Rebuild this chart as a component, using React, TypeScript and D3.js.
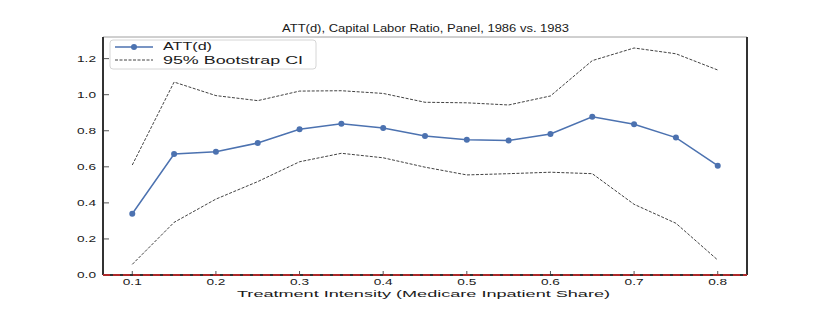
import React, { useRef, useEffect } from 'react';
import * as d3 from 'd3';

const intensity = [0.1, 0.15, 0.2, 0.25, 0.3, 0.35, 0.4, 0.45, 0.5, 0.55, 0.6, 0.65, 0.7, 0.75, 0.8];
const att = [0.34, 0.671, 0.684, 0.732, 0.808, 0.839, 0.815, 0.771, 0.75, 0.746, 0.782, 0.878, 0.836, 0.762, 0.606];
const ciUpper = [0.61, 1.07, 0.995, 0.967, 1.02, 1.022, 1.007, 0.958, 0.955, 0.943, 0.993, 1.189, 1.259, 1.227, 1.137];
const ciLower = [0.059, 0.292, 0.421, 0.518, 0.628, 0.675, 0.65, 0.598, 0.555, 0.562, 0.57, 0.562, 0.392, 0.287, 0.083];
const xTicks = [0.1, 0.2, 0.3, 0.4, 0.5, 0.6, 0.7, 0.8];
const yTicks = [0.0, 0.2, 0.4, 0.6, 0.8, 1.0, 1.2];

const W = 830;
const H = 310;

export default function App() {
  const ref = useRef<SVGSVGElement>(null);

  useEffect(() => {
    const svg = d3.select(ref.current);
    svg.selectAll('*').remove();

    const margin = { top: 37, right: 83, bottom: 35, left: 103 };
    const x = d3.scaleLinear().domain([0.065, 0.835]).range([margin.left, W - margin.right]);
    const y = d3.scaleLinear().domain([0, 1.32]).range([H - margin.bottom, margin.top]);
    const font = '"Liberation Sans", Arial, sans-serif';
    const ink = '#1a1a1a';

    // text stretched sideways like the reference rendering
    const label = (g: any, tx: number, ty: number, s: string, size: number, len: number, anchor = 'start') =>
      g.append('text').attr('x', tx).attr('y', ty).attr('text-anchor', anchor)
        .attr('font-family', font).attr('font-size', size).attr('fill', ink)
        .attr('textLength', len).attr('lengthAdjust', 'spacingAndGlyphs').text(s);

    svg.append('rect').attr('width', W).attr('height', H).attr('fill', '#fff');

    const x0 = x.range()[0], x1 = x.range()[1], y0 = y.range()[0], y1 = y.range()[1];

    label(svg, 282, 32, 'ATT(d), Capital Labor Ratio, Panel, 1986 vs. 1983', 10.5, 287);

    // ticks (inward)
    const ticks = svg.append('g').attr('stroke', '#555').attr('stroke-width', 1);
    xTicks.forEach(t => {
      ticks.append('line').attr('x1', x(t)).attr('x2', x(t)).attr('y1', y(0)).attr('y2', y(0) - 4);
    });
    yTicks.forEach(t => {
      ticks.append('line').attr('x1', x0).attr('x2', x0 + 6).attr('y1', y(t)).attr('y2', y(t));
    });

    xTicks.forEach(t => label(svg, x(t) - 9.5, 284.5, d3.format('.1f')(t), 9.5, 19));
    yTicks.forEach(t => label(svg, 77, y(t) + 3.4, d3.format('.1f')(t), 9.5, 19));

    label(svg, 237, 297, 'Treatment Intensity (Medicare Inpatient Share)', 9.5, 373);

    const idx = d3.range(intensity.length);
    const path = (vals: number[]) => d3.line<number>().x(i => x(intensity[i])).y(i => y(vals[i]))(idx);

    [ciUpper, ciLower].forEach(vals => {
      svg.append('path').attr('d', path(vals)).attr('fill', 'none')
        .attr('stroke', '#111').attr('stroke-width', 0.8).attr('stroke-dasharray', '3,1.5');
    });

    svg.append('path').attr('d', path(att)).attr('fill', 'none')
      .attr('stroke', '#4c72b0').attr('stroke-width', 1.5);
    svg.selectAll('circle.att').data(idx).enter().append('circle')
      .attr('cx', i => x(intensity[i])).attr('cy', i => y(att[i])).attr('r', 3)
      .attr('fill', '#4c72b0');

    // spines
    svg.append('line').attr('x1', x0).attr('x2', x1).attr('y1', y1).attr('y2', y1).attr('stroke', '#888').attr('stroke-width', 0.8);
    svg.append('line').attr('x1', x0).attr('x2', x0).attr('y1', y1).attr('y2', y0).attr('stroke', '#333').attr('stroke-width', 2);
    svg.append('line').attr('x1', x1).attr('x2', x1).attr('y1', y1).attr('y2', y0).attr('stroke', '#333').attr('stroke-width', 2);
    svg.append('line').attr('x1', x0).attr('x2', x1).attr('y1', y0).attr('y2', y0).attr('stroke', '#333').attr('stroke-width', 2);

    // zero reference line
    svg.append('line').attr('x1', x0).attr('x2', x1).attr('y1', y(0)).attr('y2', y(0))
      .attr('stroke', '#d62728').attr('stroke-width', 1.5).attr('stroke-dasharray', '7,3');

    // legend
    const lg = svg.append('g').attr('transform', 'translate(110,40)');
    lg.append('rect').attr('width', 206).attr('height', 29).attr('rx', 3)
      .attr('fill', '#fff').attr('fill-opacity', 0.8).attr('stroke', '#ccc').attr('stroke-width', 0.8);
    lg.append('line').attr('x1', 5).attr('x2', 43).attr('y1', 7).attr('y2', 7).attr('stroke', '#4c72b0').attr('stroke-width', 1.5);
    lg.append('circle').attr('cx', 24).attr('cy', 7).attr('r', 3).attr('fill', '#4c72b0');
    lg.append('line').attr('x1', 5).attr('x2', 43).attr('y1', 20).attr('y2', 20)
      .attr('stroke', '#111').attr('stroke-width', 0.8).attr('stroke-dasharray', '3,1.5');
    label(lg, 53, 10, 'ATT(d)', 10, 49);
    label(lg, 53, 23.5, '95% Bootstrap CI', 10, 140);
  }, []);

  return <svg ref={ref} width={W} height={H} style={{ display: 'block', position: 'absolute', left: 0, top: 0 }} />;
}
